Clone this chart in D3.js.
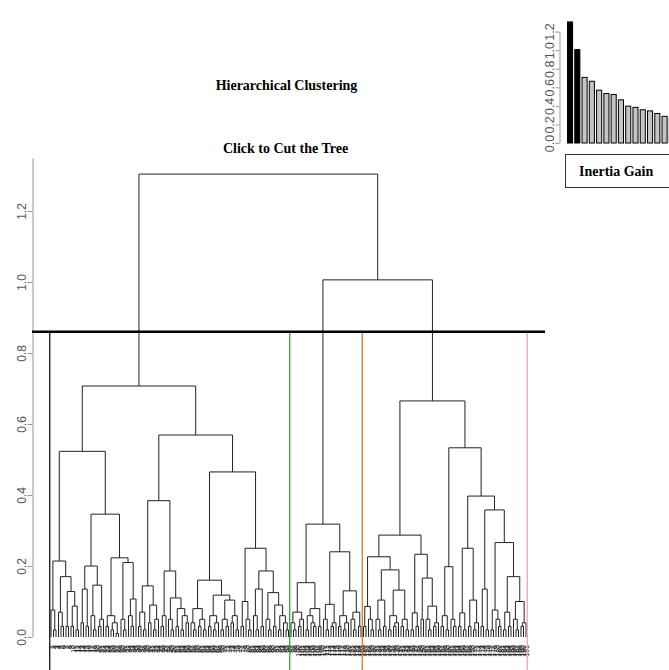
<!DOCTYPE html>
<html>
<head>
<meta charset="utf-8">
<script src="https://cdn.jsdelivr.net/npm/d3@7"></script>
<style>
  body { margin: 0; background: #fff; }
  svg { display: block; }
</style>
</head>
<body>
<div id="chart"></div>
<script>
// tree pieces, "x" is an individual, the number after ")" is the merge height in hundredths
const clusterA1a = "((x(xx)2)7.6((x(xx)3)7((xx)3((xx)3(xx)2)8.7)12.8)17)21.4";
const clusterA1b = "((((xx)4(xx)3)13.5((x(xx)2)6((xx)3x)5)14.6)20(((xx)3((xx)2(xx)1)4)6((x(xx)2)5((x(xx)3)6x)10.7)21)22.3)34.6";
const clusterA2L = "((((xx)3(xx)2)7((xx)4((xx)2x)5)9)14.4(((xx)3x)6((x(xx)2)5((xx)3((xx)2(xx)4)6)8)11)18.6)38.4";
const clusterA2R = "((((x(xx)2)4((xx)3(xx)2)5)8(((xx)3((xx)2x)4)6(((xx)2(xx)3)5((xx)4(xx)2)6)10.4)11.8)16(((xx)3(x(xx)2)5)10(((x(xx)2)6(xx)3)13.5((x(xx)2)5((xx)3((xx)2(x(xx)2)4)6)9)12.5)18.6)25)46.5";
const clusterB = "((((x(xx)2)4((xx)3x)5)7(((xx)2(x(xx)3)4)6(xx)3)8)15.3(((x(xx)2)5((xx)3x)4)9.2(((xx)3((xx)2x)4)6((x(xx)2)5(xx)3)7)13)24)31.8";
const clusterC1 = "(((xx)3(x(xx)2)5)8.6(((x(xx)2)5(xx)3)10.4(((xx)2((xx)3x)4)6((xx)3(xx)2)5)13.2)18.9)22.6";
const clusterC2 = "(((xx)2(xx)3)6.8((xx)5((x(xx)2)5((xx)3x)4)8.7)16.6)23.3";
const clusterC3 = "(((xx)3(xx)2)6(x(xx)3)5)19.8";
const clusterC4 = "((((xx)3(xx)2)6.8((xx)3((xx)2x)4)10.4)25(((xx)3(xx)2)13.5(((xx)2(x(xx)3)5)7.6(((xx)2(xx)3)7((x(xx)2)5((xx)3x)4)10)17)26.6)35.8)39.7";

const treeString = `(((${clusterA1a}${clusterA1b})52.3(${clusterA2L}${clusterA2R})56.9)70.7` +
  `(${clusterB}((${clusterC1}${clusterC2})28.7(${clusterC3}${clusterC4})53.3)66.5)100.6)130.4`;

const yTicks = [0, 0.2, 0.4, 0.6, 0.8, 1.0, 1.2];
const cutHeight = 0.86;
const clusterSizes = [96, 29, 66];
const borderColors = ["#000000", "#22a022", "#cc721c", "#f2a0a0"];

const gainValues = [1.304, 1.006, 0.707, 0.665, 0.569, 0.533, 0.523, 0.465, 0.397, 0.384, 0.358, 0.346, 0.318, 0.287, 0.266];
const gainTicks = [0, 0.2, 0.4, 0.6, 0.8, 1.0, 1.2];

function parseTree(s) {
  let p = 0;
  function node() {
    if (s[p] === "x") { p++; return { h: 0 }; }
    p++; // (
    const a = node();
    const b = node();
    p++; // )
    const m = s.slice(p).match(/^[0-9.]+/);
    p += m[0].length;
    return { h: +m[0] / 100, children: [a, b] };
  }
  return node();
}

const root = parseTree(treeString);
const nLeaves = treeString.match(/x/g).length;

const svg = d3.select("#chart").append("svg")
  .attr("width", 669)
  .attr("height", 670);

const x = d3.scaleLinear().domain([0, nLeaves - 1]).range([51, 526]);
const y = d3.scaleLinear().domain([0, 1.35]).range([637, 157.75]);

let leafCount = 0;
const internal = [];
const leaves = [];
function layout(n) {
  if (!n.children) {
    n.i = leafCount++;
    n.x = x(n.i);
    leaves.push(n);
  } else {
    n.children.forEach(layout);
    n.x = (n.children[0].x + n.children[1].x) / 2;
    internal.push(n);
  }
}
layout(root);

// dendrogram
svg.append("g").selectAll("path")
  .data(internal)
  .join("path")
  .attr("fill", "none")
  .attr("stroke", "#222")
  .attr("stroke-width", 1)
  .attr("d", d => {
    const [a, b] = d.children;
    return `M${a.x},${y(a.h)}V${y(d.h)}H${b.x}V${y(b.h)}`;
  });

// leaf labels
svg.append("g").selectAll("text")
  .data(leaves)
  .join("text")
  .attr("transform", d => `translate(${d.x + 2.5},645) rotate(-90)`)
  .attr("text-anchor", "end")
  .style("font-family", "Liberation Sans, Arial, sans-serif")
  .style("font-size", "7px")
  .attr("fill", "#000")
  .text(d => d.i + 1);

// y axis
const yAxis = svg.append("g")
  .attr("transform", "translate(32.5,0)")
  .call(d3.axisLeft(y).tickValues(yTicks).tickFormat(d3.format(".1f")).tickSize(5).tickSizeOuter(0));
yAxis.select(".domain").attr("stroke", "#999");
yAxis.selectAll(".tick line").attr("stroke", "#999");
yAxis.selectAll(".tick text")
  .attr("x", 0).attr("dy", 0)
  .attr("text-anchor", "middle")
  .attr("transform", "translate(-7,0) rotate(-90)")
  .attr("fill", "#555")
  .style("font-family", "Liberation Sans, Arial, sans-serif")
  .style("font-size", "12px");

// cluster borders
const bounds = [-0.5];
clusterSizes.forEach(s => bounds.push(bounds[bounds.length - 1] + s));
svg.append("g").selectAll("line")
  .data(bounds)
  .join("line")
  .attr("x1", d => x(d)).attr("x2", d => x(d))
  .attr("y1", y(cutHeight)).attr("y2", 670)
  .attr("stroke", (d, i) => borderColors[i])
  .attr("stroke-width", 1.2);

// cut line
svg.append("line")
  .attr("x1", 32).attr("x2", 545)
  .attr("y1", y(cutHeight)).attr("y2", y(cutHeight))
  .attr("stroke", "#000")
  .attr("stroke-width", 2.5);

// titles
const serif = "Liberation Serif, Times New Roman, serif";
svg.append("text").attr("x", 286.5).attr("y", 90)
  .attr("text-anchor", "middle").style("font-family", serif)
  .style("font-weight", "bold").style("font-size", "14px")
  .text("Hierarchical Clustering");
svg.append("text").attr("x", 285.5).attr("y", 153)
  .attr("text-anchor", "middle").style("font-family", serif)
  .style("font-weight", "bold").style("font-size", "14px")
  .text("Click to Cut the Tree");

// inertia gain inset
const yb = d3.scaleLinear().domain([0, 1.2]).range([143, 31.6]);
const xb = d3.scaleBand().domain(d3.range(gainValues.length))
  .range([567.5, 674.4]).paddingInner(0.3).paddingOuter(0);

svg.append("g").selectAll("rect")
  .data(gainValues)
  .join("rect")
  .attr("x", (d, i) => xb(i))
  .attr("y", d => yb(d))
  .attr("width", xb.bandwidth())
  .attr("height", d => yb(0) - yb(d))
  .attr("fill", (d, i) => i < clusterSizes.length - 1 ? "#000" : "#c4c4c4")
  .attr("stroke", "#000")
  .attr("stroke-width", 1);

const bAxis = svg.append("g")
  .attr("transform", "translate(559.5,0)")
  .call(d3.axisLeft(yb).tickValues(gainTicks).tickFormat(d3.format(".1f")).tickSize(4).tickSizeOuter(0));
bAxis.select(".domain").attr("stroke", "#999");
bAxis.selectAll(".tick line").attr("stroke", "#999");
bAxis.selectAll(".tick text")
  .attr("x", 0).attr("dy", 0)
  .attr("text-anchor", "middle")
  .attr("transform", "translate(-6,0) rotate(-90)")
  .attr("fill", "#555")
  .style("font-family", "Liberation Sans, Arial, sans-serif")
  .style("font-size", "12.5px");

svg.append("rect")
  .attr("x", 565.5).attr("y", 154.5)
  .attr("width", 120).attr("height", 33)
  .attr("fill", "none").attr("stroke", "#333");
svg.append("text").attr("x", 579).attr("y", 176)
  .style("font-family", serif).style("font-weight", "bold").style("font-size", "14px")
  .text("Inertia Gain");
</script>
</body>
</html>
